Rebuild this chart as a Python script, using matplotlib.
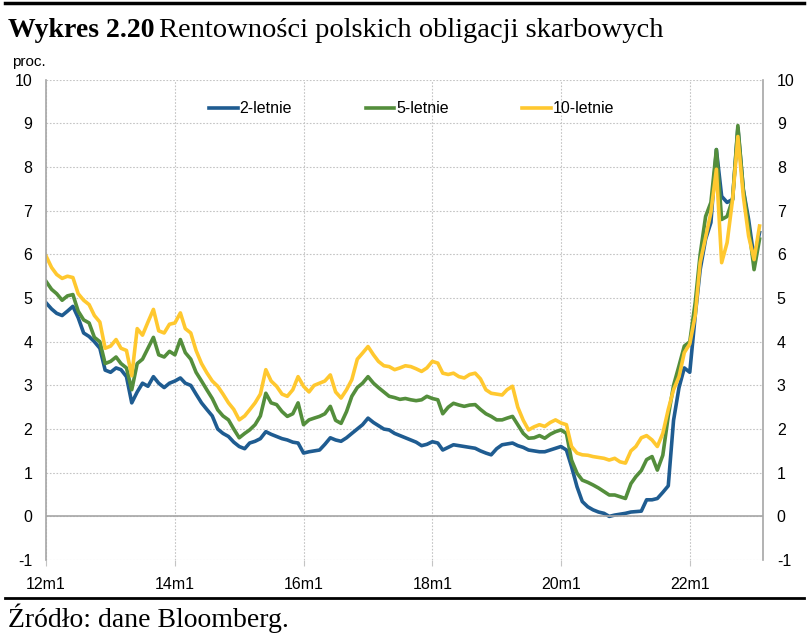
import pandas as pd
import numpy as np
import matplotlib.pyplot as plt

# monthly yields, 2012m1 .. 2023m2
y2 = [4.89, 4.75, 4.65, 4.60, 4.70, 4.81, 4.55, 4.20, 4.12, 4.00, 3.85, 3.35,
      3.30, 3.40, 3.36, 3.20, 2.60, 2.85, 3.05, 2.98, 3.20, 3.05, 2.95, 3.05,
      3.10, 3.17, 3.05, 3.00, 2.80, 2.60, 2.45, 2.30, 2.00, 1.90, 1.83, 1.70,
      1.60, 1.55, 1.68, 1.72, 1.78, 1.94, 1.88, 1.83, 1.78, 1.75, 1.70, 1.68,
      1.45, 1.48, 1.50, 1.52, 1.65, 1.80, 1.75, 1.72, 1.80, 1.90, 2.00, 2.10,
      2.25, 2.15, 2.08, 2.00, 1.98, 1.90, 1.85, 1.80, 1.75, 1.70, 1.62, 1.65,
      1.71, 1.68, 1.52, 1.58, 1.64, 1.62, 1.60, 1.58, 1.56, 1.50, 1.45, 1.41,
      1.55, 1.64, 1.66, 1.68, 1.62, 1.58, 1.52, 1.50, 1.48, 1.48, 1.52, 1.56,
      1.60, 1.52, 1.14, 0.68, 0.34, 0.22, 0.15, 0.10, 0.07, 0.00, 0.03, 0.05,
      0.07, 0.10, 0.11, 0.12, 0.38, 0.38, 0.41, 0.55, 0.70, 2.20, 2.95, 3.40,
      3.30, 4.60, 5.65, 6.35, 6.73, 8.40, 7.33, 7.19, 7.26, 8.90, 7.48, 6.80,
      5.90, 6.50]
y5 = [5.38, 5.20, 5.10, 4.95, 5.05, 5.08, 4.70, 4.50, 4.43, 4.10, 4.00, 3.50,
      3.55, 3.65, 3.50, 3.40, 2.90, 3.50, 3.60, 3.85, 4.10, 3.70, 3.65, 3.78,
      3.70, 4.05, 3.75, 3.60, 3.30, 3.10, 2.90, 2.70, 2.44, 2.30, 2.21, 2.00,
      1.80, 1.90, 1.98, 2.10, 2.30, 2.82, 2.60, 2.56, 2.40, 2.29, 2.35, 2.60,
      2.10, 2.21, 2.25, 2.29, 2.35, 2.52, 2.20, 2.13, 2.40, 2.75, 2.95, 3.05,
      3.20, 3.05, 2.95, 2.85, 2.75, 2.72, 2.68, 2.70, 2.67, 2.65, 2.67, 2.75,
      2.70, 2.67, 2.35, 2.50, 2.59, 2.55, 2.52, 2.55, 2.56, 2.45, 2.35, 2.29,
      2.21, 2.21, 2.25, 2.29, 2.10, 1.90, 1.79, 1.80, 1.85, 1.79, 1.88, 1.94,
      1.98, 1.90, 1.29, 0.99, 0.83, 0.78, 0.72, 0.65, 0.57, 0.49, 0.49, 0.45,
      0.41, 0.75, 0.91, 1.05, 1.30, 1.37, 1.06, 1.40, 2.30, 3.00, 3.45, 3.90,
      4.00, 4.90, 6.00, 6.87, 7.19, 8.40, 6.80, 6.87, 7.26, 8.95, 7.48, 6.65,
      5.65, 6.35]
y10 = [5.96, 5.70, 5.54, 5.45, 5.50, 5.47, 5.10, 4.95, 4.85, 4.60, 4.45, 3.85,
       3.90, 4.05, 3.85, 3.80, 3.22, 4.30, 4.15, 4.45, 4.74, 4.25, 4.20, 4.40,
       4.43, 4.66, 4.30, 4.20, 3.80, 3.50, 3.29, 3.10, 2.98, 2.80, 2.60, 2.45,
       2.21, 2.30, 2.44, 2.60, 2.80, 3.36, 3.10, 2.98, 2.80, 2.75, 2.90, 3.20,
       2.98, 2.85, 3.00, 3.05, 3.10, 3.24, 2.85, 2.71, 2.90, 3.13, 3.60, 3.74,
       3.89, 3.70, 3.55, 3.45, 3.43, 3.36, 3.40, 3.45, 3.43, 3.38, 3.32, 3.40,
       3.55, 3.51, 3.28, 3.25, 3.28, 3.20, 3.17, 3.25, 3.28, 3.15, 2.90, 2.82,
       2.80, 2.78, 2.90, 2.98, 2.50, 2.20, 1.98, 2.05, 2.10, 2.06, 2.15, 2.21,
       2.14, 2.10, 1.60, 1.45, 1.41, 1.40, 1.37, 1.35, 1.33, 1.29, 1.33, 1.25,
       1.22, 1.50, 1.60, 1.80, 1.85, 1.75, 1.60, 1.90, 2.45, 2.90, 3.20, 3.75,
       3.95, 4.60, 5.81, 6.40, 6.96, 7.95, 5.81, 6.27, 7.26, 8.70, 7.33, 6.42,
       5.88, 6.65]

dates = pd.date_range('2012-01-01', periods=len(y2), freq='MS')
tick_years = [2012, 2014, 2016, 2018, 2020, 2022]
tick_labels = ['12m1', '14m1', '16m1', '18m1', '20m1', '22m1']

plt.rcParams['font.family'] = ['Liberation Sans', 'DejaVu Sans']
plt.rcParams['axes.unicode_minus'] = False

fig = plt.figure(figsize=(8.09, 6.43), dpi=100)
ax = fig.add_axes([0.057, 0.129, 0.886, 0.747])

ax.plot(dates, y2, color='#1f5c91', lw=2.6, label='2-letnie')
ax.plot(dates, y5, color='#548e3c', lw=2.6, label='5-letnie')
ax.plot(dates, y10, color='#ffc82f', lw=2.6, label='10-letnie')

ax.set_ylim(-1, 10)
ax.set_yticks(range(-1, 11))
ax.set_xlim(pd.Timestamp('2012-01-01'), pd.Timestamp('2023-02-20'))
ax.set_xticks([pd.Timestamp(f'{y}-01-01') for y in tick_years])
ax.set_xticklabels(tick_labels)

ax.grid(True, color='#c4c4c4', linestyle=(0, (1.5, 1.5)), lw=0.8)
ax.axhline(0, color='#a6a6a6', lw=1.2)
for s in ['top', 'bottom']:
    ax.spines[s].set_visible(False)
for s in ['left', 'right']:
    ax.spines[s].set_color('#a6a6a6')
    ax.spines[s].set_linewidth(1.2)

ax.tick_params(axis='y', length=0, labelsize=11.5, pad=10,
               labelright=True, right=False)
ax.tick_params(axis='x', length=4, color='#c4c4c4', labelsize=11.5, pad=8)

ax.legend(loc='upper center', bbox_to_anchor=(0.51, 0.985), ncol=3,
          frameon=False, fontsize=11.5, handlelength=1.8, handletextpad=0.1,
          columnspacing=4.6)

fig.text(0.015, 0.904, 'proc.', fontsize=11, va='center')

fig.text(0.01, 0.952, 'Wykres 2.20', fontsize=20, fontweight='bold',
         family='Liberation Serif', va='center')
fig.text(0.196, 0.952, 'Rentowności polskich obligacji skarbowych', fontsize=20.5,
         family='Liberation Serif', va='center')
fig.text(0.01, 0.038, 'Źródło: dane Bloomberg.', fontsize=20,
         family='Liberation Serif', va='center')

fig.add_artist(plt.Line2D([0.006, 0.994], [0.995, 0.995], color='black', lw=2.5,
                          transform=fig.transFigure))
fig.add_artist(plt.Line2D([0.006, 0.994], [0.07, 0.07], color='black', lw=2.0,
                          transform=fig.transFigure))

fig.savefig('out.png', dpi=100)
